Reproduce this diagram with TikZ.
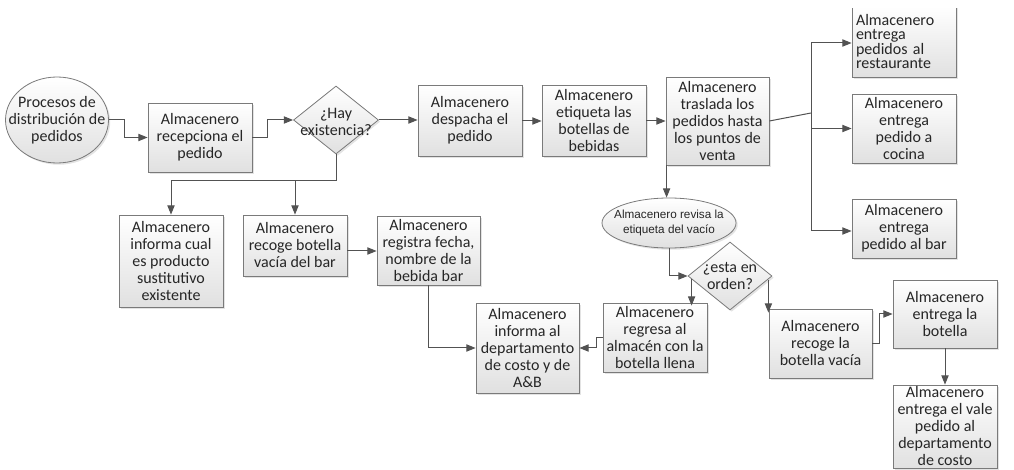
\documentclass[tikz,border=0pt]{standalone}
\usepackage{fontspec}
\setmainfont{Carlito}
\newfontfamily\arialf{Liberation Sans}
\usetikzlibrary{shapes.geometric,arrows.meta,shadows,calc}
\begin{document}
\begin{tikzpicture}[x=0.75pt,y=-0.75pt,
  shapebase/.style={draw=black!52, line width=0.6pt, top color=white, bottom color=black!12,
    drop shadow={opacity=0.22,shadow xshift=1.3pt,shadow yshift=-1.3pt}},
  box/.style={rectangle, shapebase, align=center, inner sep=1pt,
    font=\fontsize{12}{12.75}\selectfont, text=black!85},
  sz/.style 2 args={minimum width=#1*0.75pt, minimum height=#2*0.75pt},
  oval/.style={ellipse, shapebase, inner sep=0pt},
  dia/.style={diamond, shapebase, inner sep=0pt},
  txt/.style={align=center, inner sep=0pt, font=\fontsize{12}{12.75}\selectfont, text=black!85},
  conn/.style={draw=black!68, line width=0.75pt},
  arr/.style={conn, -{Triangle[length=7pt,width=5.5pt]}}
]
\useasboundingbox (0,0) rectangle (1014,470);
\begin{scope}
\clip (-10,8.5) rectangle (1024,480);
% nodes
\node[oval, sz={103}{86}] (start) at (57,120) {};
\node[txt] (starttxt) at (57,120) {Procesos de\\distribución de\\pedidos};
\node[box, sz={104}{69}] (recep) at (200,137.5) {Almacenero\\recepciona el\\pedido};
\node[dia, sz={85}{68}] (hay) at (336,120) {};
\node[txt] (haytxt) at (336,122) {¿Hay\\existencia?};
\node[box, sz={104}{71}] (desp) at (470,120.5) {Almacenero\\despacha el\\pedido};
\node[box, sz={104}{71}] (etiq) at (594,120.5) {Almacenero\\etiqueta las\\botellas de\\bebidas};
\node[box, sz={103}{88}] (trasl) at (717.5,121) {Almacenero\\traslada los\\pedidos hasta\\los puntos de\\venta};
\node[box, sz={104}{71}, text width=96*0.75pt, align=left, font=\fontsize{12}{10.9}\selectfont] (rest) at (904,41.5) {Almacenero\\entrega\\pedidos al\\restaurante};
\node[box, sz={104}{69}] (cocina) at (904,128.5) {Almacenero\\entrega\\pedido a\\cocina};
\node[box, sz={104}{59}] (barE) at (904,228.5) {Almacenero\\entrega\\pedido al bar};
\node[box, sz={104}{92}] (sust) at (171,261) {Almacenero\\informa cual\\es producto\\sustitutivo\\existente};
\node[box, sz={104}{61}] (recoge) at (295,245.5) {Almacenero\\recoge botella\\vacía del bar};
\node[box, sz={103}{69}] (regis) at (428.5,250.5) {Almacenero\\registra fecha,\\nombre de la\\bebida bar};
\node[box, sz={103}{90}] (inform) at (527.5,348) {Almacenero\\informa al\\departamento\\de costo y de\\A\&B};
\node[box, sz={104}{69}] (regresa) at (655,337.5) {Almacenero\\regresa al\\almacén con la\\botella llena};
\node[oval, sz={134}{50}] (revisa) at (669,223) {};
\node[txt, font=\arialf\fontsize{8.8}{11.25}\selectfont] (revisatxt) at (669,223) {Almacenero revisa la\\etiqueta del vacío};
\node[dia, sz={84}{68}] (orden) at (730,276) {};
\node[txt] (ordentxt) at (730,276) {¿esta en\\orden?};
\node[box, sz={103}{69}] (recoge2) at (820.5,343.5) {Almacenero\\recoge la\\botella vacía};
\node[box, sz={104}{68}] (entrega) at (945,314) {Almacenero\\entrega la\\botella};
\node[box, sz={104}{83}] (vale) at (945,426.5) {Almacenero\\entrega el vale\\pedido al\\departamento\\de costo};
% connectors
\draw[arr] (start.east) -- ++(16,0) |- (recep.west);
\draw[arr] (recep.east) -- ++(15,0) |- (hay.west);
\draw[arr] (hay.east) -- (desp.west |- hay.east);
\draw[arr] (desp.east |- 0,121) -- (etiq.west |- 0,121);
\draw[arr] (etiq.east |- 0,121) -- (trasl.west |- 0,121);
\coordinate (jm) at (811,113);
\coordinate (jt) at (811,43);
\coordinate (jb) at (811,231);
\draw[conn] (trasl.east |- 0,121) -- (jm);
\draw[conn] (jt) -- (jb);
\draw[arr] (jt) -- (jt -| rest.west);
\draw[arr] (jm |- cocina.west) -- (cocina.west);
\draw[arr] (jb) -- (jb -| barE.west);
\coordinate (hb) at (336,181);
\draw[arr] (hay.south) -- (hb) -| (sust.north);
\draw[arr] (hb -| recoge.north) -- (recoge.north);
\draw[arr] (recoge.east |- 0,251) -- (regis.west |- 0,251);
\draw[arr] (regis.south) |- (inform.west);
\draw[arr] (regresa.west) -- ++(-6,0) |- (inform.east);
\draw[arr] ([xshift=0.75pt]trasl.south west) -- ([xshift=0.75pt]trasl.south west |- revisa.north);
\draw[arr] (revisa.south) |- (orden.west);
\draw[arr] ([shift={(4,3)}]orden.west) -- ([shift={(4,3)}]orden.west |- regresa.north);
\draw[arr] ([shift={(-4,4)}]orden.east) -- ([shift={(-4,4)}]orden.east |- recoge2.north);
\draw[arr] (recoge2.east) -- ++(7,0) |- (entrega.west);
\draw[arr] (entrega.south) -- (vale.north);
\end{scope}
\end{tikzpicture}
\end{document}
